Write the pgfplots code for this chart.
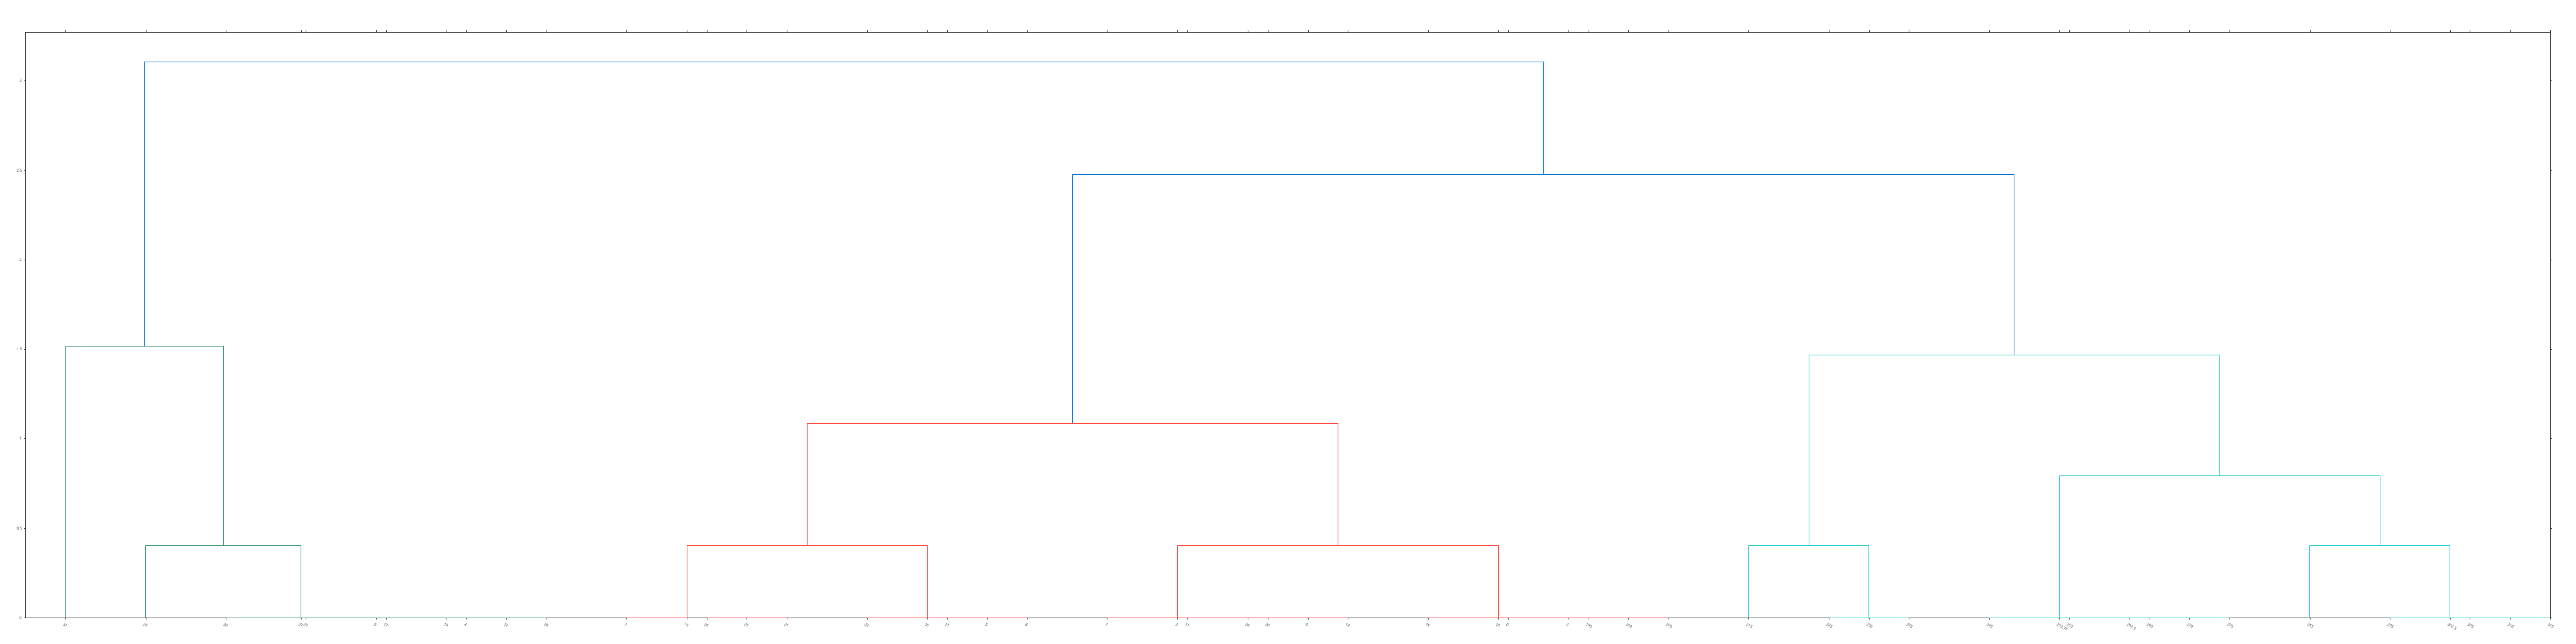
\documentclass[border=0pt]{standalone}
\usepackage{fontspec}
\setmainfont{Open Sans}
\usepackage{pgfplots}
\pgfplotsset{compat=1.18}
\definecolor{dblue}{RGB}{0,116,217}
\definecolor{dcyan}{RGB}{35,205,205}
\definecolor{dgreen}{RGB}{61,153,112}
\definecolor{dred}{RGB}{255,65,54}
\definecolor{axgray}{RGB}{68,68,68}
\begin{document}
\begin{tikzpicture}
\begin{axis}[
  scale only axis, width=784.05pt, height=181.89pt,
  xmin=0, xmax=315, ymin=0, ymax=3.273,
  axis line style={color=axgray, line width=0.12pt},
  tick style={color=axgray, line width=0.1pt},
  tick align=outside, major tick length=0.5pt,
  xtick pos=both, ytick pos=both,
  xticklabel pos=bottom, yticklabel pos=left,
  xtick={5,15,25,34.375,35,43.75,45,52.5,55,60,65,75,82.5,85,90,95,105,112.5,115,120,125,135,143.75,145,152.5,155,160,165,175,183.75,185,192.5,195,200,205,215,225,230,235,245,253.75,255,262.5,265,270,275,285,295,302.5,305,310,315},
  xticklabels={31,29,30,27,23,9,17,19,4,12,28,7,15,26,25,21,22,16,13,5,8,1,3,11,24,20,6,14,18,10,0,2,195,200,205,215,225,230,235,245,253.75,255,262.5,265,270,275,285,295,302.5,305,310,315},
  ytick={0,0.5,1,1.5,2,2.5,3},
  yticklabels={0,0.5,1,1.5,2,2.5,3},
  ticklabel style={font=\fontsize{1.2}{1.4}\selectfont, color=axgray},
  xticklabel style={rotate=-30, anchor=north west, inner sep=0pt, yshift=-0.9pt, xshift=-0.1pt},
  yticklabel style={inner sep=0pt, xshift=-0.35pt},
  every axis plot/.append style={line width=0.22pt},
]
% green cluster
\addplot[dgreen] coordinates {(5,0) (5,1.517) (24.6875,1.517) (24.6875,0.402)};
\addplot[dgreen] coordinates {(15,0) (15,0.402) (34.375,0.402) (34.375,0)};
\addplot[dgreen] coordinates {(25,0) (43.75,0)};
\addplot[dgreen] coordinates {(35,0) (52.5,0)};
\addplot[dgreen] coordinates {(45,0) (60,0)};
\addplot[dgreen] coordinates {(55,0) (65,0)};
% red cluster
\addplot[dred] coordinates {(97.5,0.402) (97.5,1.085) (163.75,1.085) (163.75,0.402)};
\addplot[dred] coordinates {(82.5,0) (82.5,0.402) (112.5,0.402) (112.5,0)};
\addplot[dred] coordinates {(143.75,0) (143.75,0.402) (183.75,0.402) (183.75,0)};
\addplot[dred] coordinates {(75,0) (82.5,0)};
\addplot[dred] coordinates {(85,0) (95,0)};
\addplot[dred] coordinates {(105,0) (120,0)};
\addplot[dred] coordinates {(115,0) (125,0)};
\addplot[dred] coordinates {(135,0) (152.5,0)};
\addplot[dred] coordinates {(145,0) (160,0)};
\addplot[dred] coordinates {(155,0) (165,0)};
\addplot[dred] coordinates {(175,0) (192.5,0)};
\addplot[dred] coordinates {(185,0) (200,0)};
\addplot[dred] coordinates {(195,0) (205,0)};
% cyan cluster
\addplot[dcyan] coordinates {(222.5,0.402) (222.5,1.469) (273.75,1.469) (273.75,0.792)};
\addplot[dcyan] coordinates {(215,0) (215,0.402) (230,0.402) (230,0)};
\addplot[dcyan] coordinates {(253.75,0) (253.75,0.792) (293.75,0.792) (293.75,0.402)};
\addplot[dcyan] coordinates {(285,0) (285,0.402) (302.5,0.402) (302.5,0)};
\addplot[dcyan] coordinates {(225,0) (235,0)};
\addplot[dcyan] coordinates {(245,0) (262.5,0)};
\addplot[dcyan] coordinates {(255,0) (270,0)};
\addplot[dcyan] coordinates {(265,0) (275,0)};
\addplot[dcyan] coordinates {(295,0) (310,0)};
\addplot[dcyan] coordinates {(305,0) (315,0)};
% blue links
\addplot[dblue] coordinates {(14.84375,1.517) (14.84375,3.107) (189.375,3.107) (189.375,2.477)};
\addplot[dblue] coordinates {(130.625,1.085) (130.625,2.477) (248.125,2.477) (248.125,1.469)};
\end{axis}
\pgfresetboundingbox
\useasboundingbox (-7.95pt,-8.16pt) rectangle (792.05pt,191.84pt);
\end{tikzpicture}
\end{document}
